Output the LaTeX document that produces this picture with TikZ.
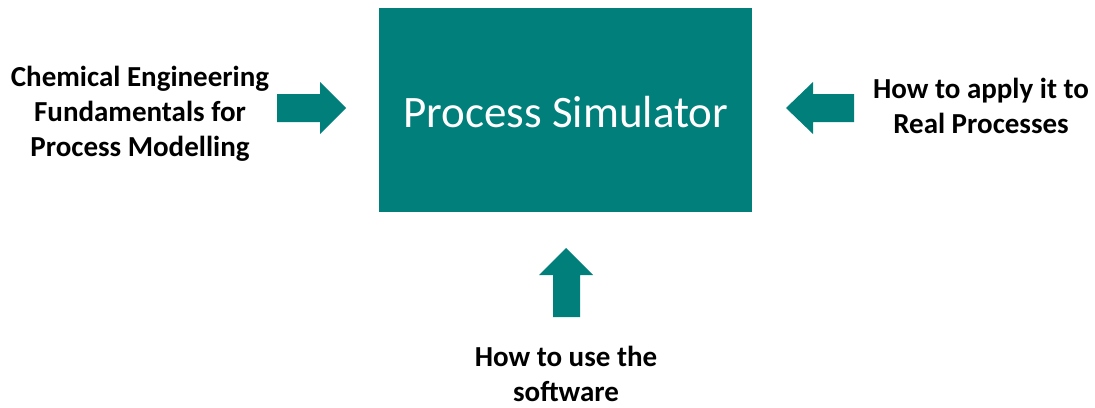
\documentclass[tikz,border=0pt]{standalone}
\usepackage{fontspec}
\setmainfont{Carlito}
\definecolor{teal1}{HTML}{007F7B}
\begin{document}
\begin{tikzpicture}[x=0.75pt,y=-0.75pt,
  lbl/.style={align=center,font=\bfseries\fontsize{21.75}{26.25}\selectfont,text=black,inner sep=0pt},
  blockarrow/.style={fill=teal1,draw=none}]
\useasboundingbox (0,0) rectangle (1095,407);
\node[fill=teal1,minimum width=373*0.75pt,minimum height=204*0.75pt,inner sep=0pt,anchor=north west] (sim) at (379,8) {};
\node[text=white,font=\fontsize{33.75}{40}\selectfont,inner sep=0pt] (simt) at (566,112) {Process Simulator};
\node[lbl] (left) at (140,114) {Chemical Engineering\\Fundamentals for\\Process Modelling};
\node[lbl] (right) at (981,106) {How to apply it to\\Real Processes};
\node[lbl] (bottom) at (566,374) {How to use the\\software};
% left arrow (pointing right)
\fill[blockarrow] (277,94) -- (320,94) -- (320,82) -- (346,108) -- (320,134) -- (320,122) -- (277,122) -- cycle;
% right arrow (pointing left)
\fill[blockarrow] (854,94) -- (813,94) -- (813,82) -- (786,108) -- (813,134) -- (813,122) -- (854,122) -- cycle;
% bottom arrow (pointing up)
\fill[blockarrow] (553,317) -- (553,275) -- (539,275) -- (566,248) -- (593,275) -- (580,275) -- (580,317) -- cycle;
\end{tikzpicture}
\end{document}
